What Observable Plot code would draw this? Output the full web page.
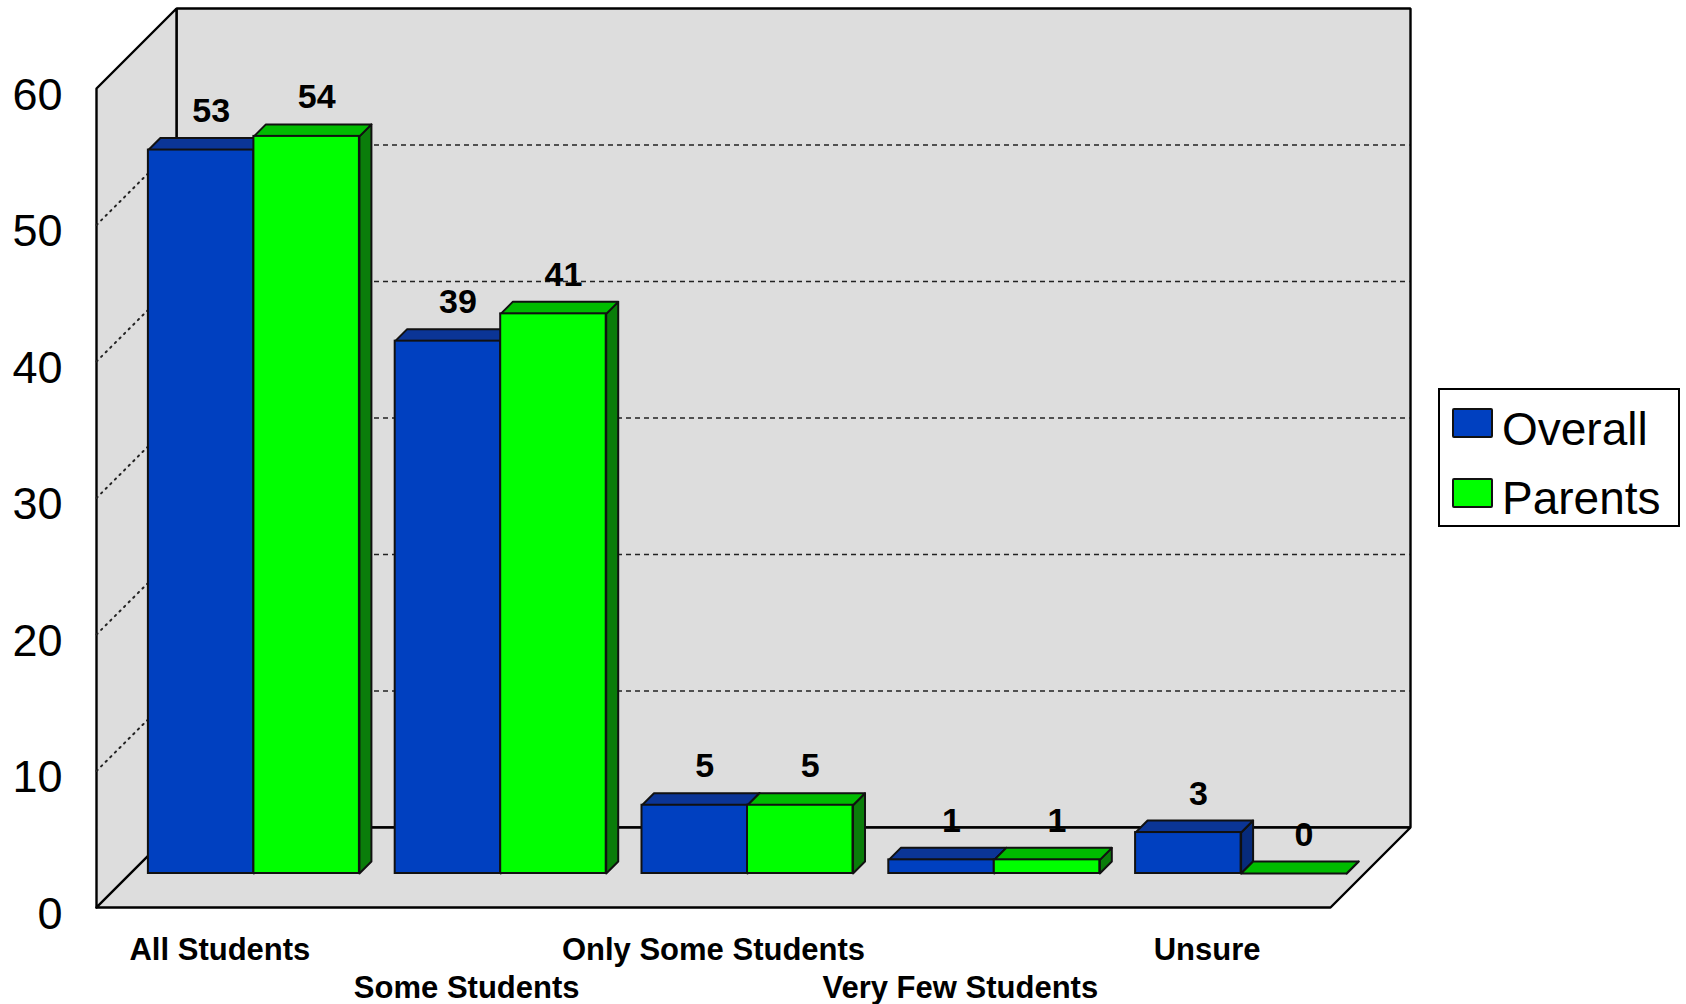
<!DOCTYPE html>
<html>
<head>
<meta charset="utf-8">
<script src="https://cdn.jsdelivr.net/npm/d3@7"></script>
<script src="https://cdn.jsdelivr.net/npm/@observablehq/plot@0.6"></script>
<style>
  html, body { margin: 0; padding: 0; background: #fff; }
  #wrap { position: relative; width: 1686px; height: 1004px; font-family: "Liberation Sans", Arial, sans-serif; }
  #wrap svg { display: block; position: absolute; left: 0; top: 0; }
  #legend { position: absolute; left: 1438px; top: 388px; width: 238px; height: 135px; border: 2px solid #000; background: #fff; }
  .sw { position: absolute; left: 12px; width: 37px; height: 26px; border: 2px solid #111; border-radius: 2px; }
  .lt { position: absolute; left: 62px; font-size: 46px; line-height: 46px; color: #000; white-space: nowrap; }
</style>
</head>
<body>
<div id="wrap"><div id="legend"></div></div>
<script>
// ---- data ----
const categories = ["All Students", "Some Students", "Only Some Students", "Very Few Students", "Unsure"];
const seriesNames = ["Overall", "Parents"];
const overall = [53, 39, 5, 1, 3];
const parents = [54, 41, 5, 1, 0];
const yTicks = [0, 10, 20, 30, 40, 50, 60];
const gridValues = [10, 20, 30, 40, 50];

// ---- styling / layout constants ----
const colors = {
  Overall: {front: "#0040C0", top: "#0B3596", side: "#072B7C"},
  Parents: {front: "#00FF00", top: "#00BC00", side: "#0A7D0A"}
};
const WALL = "#DDDDDD";
const N = categories.length;
const YMAX = d3.max(yTicks);
const DX = 80 / 246.8;   // full depth, x data units
const DY = 80 / 13.65;   // full depth, y data units
const F1 = 0.425, F2 = 0.575; // bar front / back depth fraction
const PAD = 0.0725, BW = 0.4275;

// ---- tables built from the data ----
const seriesVals = [overall, parents];
const bars = [];
categories.forEach((c, i) => {
  seriesVals.forEach((vals, j) => {
    const x1 = i + PAD + j * BW + F1 * DX;
    const y1 = F1 * DY;
    bars.push({cat: c, series: seriesNames[j], i, value: vals[i], x1, x2: x1 + BW, y1, y2: y1 + vals[i]});
  });
});
const ddx = (F2 - F1) * DX, ddy = (F2 - F1) * DY;
function poly(id, pts) { return pts.concat([pts[0]]).map(([x, y]) => ({id, x, y})); }
function topFaces(s) {
  return bars.filter(b => b.series === s).flatMap(b =>
    poly(s + b.i, [[b.x1, b.y2], [b.x2, b.y2], [b.x2 + ddx, b.y2 + ddy], [b.x1 + ddx, b.y2 + ddy]]));
}
function sideFaces(s) {
  return bars.filter(b => b.series === s).flatMap(b =>
    poly(s + b.i, [[b.x2, b.y1], [b.x2, b.y2], [b.x2 + ddx, b.y2 + ddy], [b.x2 + ddx, b.y1 + ddy]]));
}
const walls = [
  ...poly("back", [[DX, DY], [N + DX, DY], [N + DX, YMAX + DY], [DX, YMAX + DY]]),
  ...poly("left", [[0, 0], [DX, DY], [DX, YMAX + DY], [0, YMAX]]),
  ...poly("floor", [[0, 0], [N, 0], [N + DX, DY], [DX, DY]])
];

const barMarks = seriesNames.flatMap(s => [
  Plot.line(sideFaces(s), {x: "x", y: "y", z: "id", fill: colors[s].side, stroke: "#111", strokeWidth: 2, strokeLinejoin: "round", curve: "linear"}),
  Plot.line(topFaces(s), {x: "x", y: "y", z: "id", fill: colors[s].top, stroke: "#111", strokeWidth: 2, strokeLinejoin: "round", curve: "linear"}),
  Plot.rect(bars.filter(b => b.series === s), {x1: "x1", x2: "x2", y1: "y1", y2: "y2", fill: colors[s].front, stroke: "#111", strokeWidth: 2})
]);

const chart = Plot.plot({
  width: 1686,
  height: 1004,
  marginLeft: 96,
  marginRight: 356,
  marginTop: 88,
  marginBottom: 97,
  style: {fontFamily: "'Liberation Sans', Arial, sans-serif", background: "transparent", overflow: "visible", color: "#000"},
  x: {type: "linear", domain: [0, N]},
  y: {type: "linear", domain: [0, YMAX]},
  marks: [
    Plot.line(walls, {x: "x", y: "y", z: "id", fill: WALL, stroke: "#000", strokeWidth: 2.4, strokeLinejoin: "miter", curve: "linear"}),
    Plot.ruleY(gridValues, {y: d => d + DY, x1: DX, x2: N + DX, stroke: "#222", strokeWidth: 1.3, strokeDasharray: "5,4"}),
    Plot.link(gridValues, {x1: 0, y1: d => d, x2: DX, y2: d => d + DY, stroke: "#222", strokeWidth: 2, strokeDasharray: "1.5,5", strokeLinecap: "round"}),
    ...barMarks,
    Plot.text(bars, {x: d => (d.x1 + d.x2) / 2, y: "y2", text: d => String(d.value), dx: 10, dy: -28, lineAnchor: "bottom", fontSize: 34, fontWeight: "bold", fill: "#000"}),
    Plot.axisY(yTicks, {tickSize: 0, tickPadding: 34, fontSize: 45, dy: 7, label: null}),
    Plot.axisX(categories.map((c, i) => i + 0.5).filter((v, i) => i % 2 === 0), {tickSize: 0, tickPadding: 30, fontSize: 31, fontWeight: "bold", tickFormat: d => categories[Math.floor(d)], label: null}),
    Plot.axisX(categories.map((c, i) => i + 0.5).filter((v, i) => i % 2 === 1), {tickSize: 0, tickPadding: 68, fontSize: 31, fontWeight: "bold", tickFormat: d => categories[Math.floor(d)], label: null})
  ]
});
const wrap = document.getElementById("wrap");
wrap.insertBefore(chart, wrap.firstChild);

// ---- legend ----
const legend = document.getElementById("legend");
const legendTops = [{sw: 18, tx: 16}, {sw: 88, tx: 85}];
seriesNames.forEach((s, k) => {
  const sw = document.createElement("div");
  sw.className = "sw";
  sw.style.top = legendTops[k].sw + "px";
  sw.style.background = colors[s].front;
  legend.appendChild(sw);
  const t = document.createElement("div");
  t.className = "lt";
  t.style.top = legendTops[k].tx + "px";
  t.textContent = s;
  legend.appendChild(t);
});
</script>
</body>
</html>
